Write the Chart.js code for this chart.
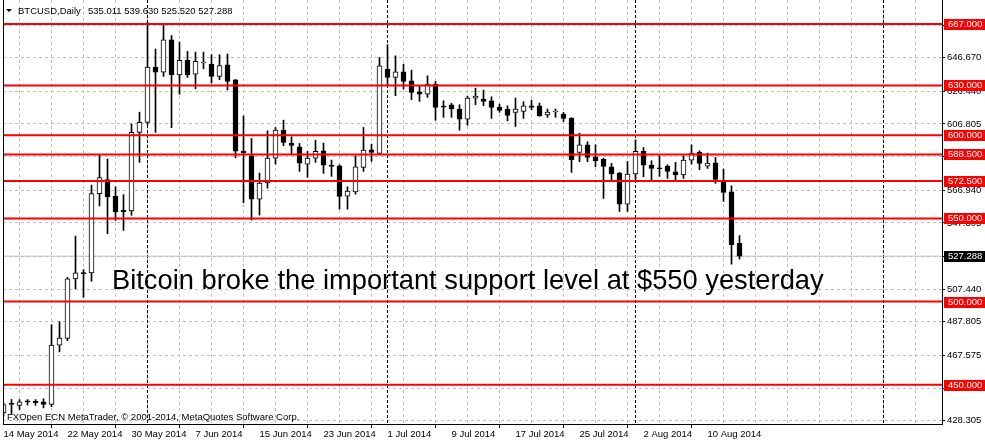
<!DOCTYPE html>
<html>
<head>
<meta charset="utf-8">
<title>BTCUSD Daily</title>
<script src="https://cdn.jsdelivr.net/npm/chart.js@4.4.1/dist/chart.umd.min.js"></script>
<style>
  html, body { margin: 0; padding: 0; background: #fff; overflow: hidden; }
  canvas { display: block; }
</style>
</head>
<body>
<canvas id="myChart" width="985" height="442"></canvas>
<script>
// daily candles, index 0 = 14 May 2014
const openPrices = [
  433.0, 438.1, 437.5, 439.6, 440.0, 439.7, 438.1, 473.8, 477.8, 513.6,
  517.2, 517.2, 564.9, 573.4, 563.3, 554.9, 554.5, 601.8, 607.8, 641.0,
  638.0, 657.5, 636.4, 645.1, 636.8, 643.5, 642.8, 635.4, 642.4, 633.4,
  590.5, 587.7, 561.6, 571.3, 586.3, 603.1, 595.3, 593.1, 582.7, 586.3,
  590.7, 582.1, 581.7, 563.4, 566.0, 580.7, 591.3, 589.1, 639.8, 634.8,
  638.2, 632.8, 626.2, 624.8, 630.8, 617.6, 618.4, 615.8, 609.7, 622.4,
  621.8, 620.8, 617.0, 615.8, 613.8, 614.4, 617.8, 617.8, 612.2, 614.0,
  612.8, 610.4, 589.7, 594.3, 587.1, 585.5, 581.1, 577.3, 558.6, 576.7,
  590.3, 582.1, 580.3, 581.5, 578.1, 576.1, 585.1, 589.7, 581.5, 583.5,
  572.3, 566.0, 535.011
];
const highPrices = [
  439.0, 441.1, 441.0, 441.0, 441.0, 441.5, 486.0, 487.8, 514.5, 539.4,
  519.2, 570.0, 588.5, 585.7, 569.0, 564.3, 606.8, 613.9, 668.0, 651.9,
  667.0, 660.0, 656.1, 650.5, 650.1, 650.1, 648.5, 648.5, 648.9, 633.6,
  611.6, 598.1, 577.3, 602.7, 604.7, 609.1, 599.1, 595.1, 590.3, 597.1,
  595.3, 585.1, 582.3, 569.0, 587.7, 604.7, 594.7, 646.8, 654.5, 647.8,
  642.8, 639.2, 629.8, 635.8, 632.4, 620.8, 619.2, 618.4, 623.6, 628.4,
  627.2, 623.2, 618.8, 617.8, 622.4, 620.2, 621.2, 619.4, 615.8, 615.8,
  613.8, 610.6, 601.3, 596.1, 594.3, 586.1, 583.1, 577.7, 584.3, 597.3,
  592.7, 584.7, 587.7, 582.3, 583.7, 587.7, 594.3, 590.7, 589.3, 586.7,
  579.7, 569.6, 539.630
];
const lowPrices = [
  431.0, 432.1, 435.0, 437.7, 437.5, 436.0, 436.7, 469.7, 476.4, 507.6,
  502.5, 512.2, 557.5, 540.8, 548.8, 542.8, 551.9, 583.7, 606.5, 601.8,
  635.4, 604.6, 624.7, 634.8, 628.0, 640.0, 631.4, 633.4, 627.3, 586.5,
  559.4, 549.0, 552.0, 568.2, 582.7, 593.7, 588.7, 578.3, 574.7, 583.7,
  577.1, 575.3, 555.6, 555.6, 564.6, 578.3, 584.3, 588.7, 629.8, 623.8,
  627.8, 621.4, 620.4, 622.8, 609.1, 610.8, 610.8, 603.1, 606.1, 618.4,
  617.8, 610.2, 613.8, 608.7, 605.3, 610.2, 615.4, 611.4, 610.8, 610.8,
  608.3, 577.7, 584.1, 584.1, 581.1, 562.0, 572.7, 554.2, 554.2, 573.3,
  575.1, 573.1, 575.3, 574.1, 572.7, 574.1, 582.7, 579.3, 580.1, 571.1,
  560.2, 522.5, 525.520
];
const closePrices = [
  438.0, 438.1, 439.7, 439.6, 439.0, 438.1, 473.8, 478.0, 513.6, 517.2,
  516.8, 564.9, 574.6, 562.9, 553.9, 553.9, 601.8, 607.8, 641.0, 638.0,
  657.5, 636.4, 645.1, 636.4, 644.5, 643.9, 635.4, 642.0, 632.4, 590.5,
  589.5, 561.6, 571.3, 586.3, 603.1, 595.7, 593.9, 583.3, 586.3, 590.3,
  582.1, 581.3, 563.2, 566.4, 581.1, 591.1, 589.7, 641.8, 634.8, 638.2,
  632.4, 625.8, 624.8, 630.8, 616.8, 617.0, 615.8, 609.7, 622.4, 623.6,
  620.4, 616.8, 615.0, 612.0, 615.8, 617.8, 616.8, 611.8, 614.0, 614.2,
  610.2, 585.3, 594.3, 586.7, 584.7, 581.3, 576.7, 558.6, 576.7, 590.3,
  582.1, 580.1, 579.9, 578.3, 576.1, 585.1, 589.3, 583.1, 583.3, 573.5,
  565.6, 534.2, 527.288
];

// horizontal levels drawn on the chart
const levels = [667, 630, 600, 588.5, 572.5, 550, 500, 450];

// price scale labels
const priceTicks = [428.305, 447.940, 467.575, 487.805, 507.440, 527.075,
  547.305, 566.940, 587.170, 606.805, 626.440, 646.670, 666.305];

// time scale labels
const dateLabels = ['14 May 2014', '22 May 2014', '30 May 2014', '7 Jun 2014',
  '15 Jun 2014', '23 Jun 2014', '1 Jul 2014', '9 Jul 2014', '17 Jul 2014',
  '25 Jul 2014', '2 Aug 2014', '10 Aug 2014'];
const dateLabelDays = [0, 8, 16, 24, 32, 40, 48, 56, 64, 72, 80, 88];
const monthStartDays = [18, 48, 79, 110];

const symbolName = 'BTCUSD,Daily';
const noteText = 'Bitcoin broke the important support level at $550 yesterday';
const copyright = 'FXOpen ECN MetaTrader, \u00a9 2001-2014, MetaQuotes Software Corp.';

const xMin = -0.0625, xMax = 117.3125;
const yMin = 426.32, yMax = 681.4;

const last = closePrices.length - 1;
const lastPrice = closePrices[last];

let gridDays = [];
for (let d = 0; d <= 116; d += 4) gridDays.push(d);

const FONT = 'Liberation Sans';
Chart.defaults.font.family = FONT;
Chart.defaults.color = '#000';

let bodies = openPrices.map((o, i) => ({ x: i, y: [o, closePrices[i]] }));
let wicks = lowPrices.map((l, i) => ({ x: i, y: [l, highPrices[i]] }));
let bodyColors = closePrices.map((c, i) => c > openPrices[i] ? '#ffffff' : '#000000');

let datasets = levels.map(v => ({
  type: 'line',
  data: [{ x: xMin, y: v }, { x: xMax, y: v }],
  borderColor: '#ff0000',
  borderWidth: 2,
  pointRadius: 0,
  order: 0
}));

datasets.push({
  type: 'bar',
  data: bodies,
  backgroundColor: bodyColors,
  borderColor: '#000',
  borderWidth: 1,
  borderSkipped: false,
  barThickness: 5,
  minBarLength: 1,
  grouped: false,
  clip: 0,
  order: 1
});
datasets.push({
  type: 'bar',
  data: wicks,
  backgroundColor: '#000',
  borderWidth: 0,
  barThickness: 1,
  grouped: false,
  clip: 0,
  order: 2
});
datasets.push({
  type: 'line',
  data: [{ x: xMin, y: lastPrice }, { x: xMax, y: lastPrice }],
  borderColor: '#c0c0c0',
  borderWidth: 1,
  pointRadius: 0,
  order: 3
});

function fmt(v) {
  return v.toFixed(3);
}

const decor = {
  id: 'decor',
  beforeDatasetsDraw(chart) {
    const ctx = chart.ctx;
    const a = chart.chartArea;
    const xs = chart.scales.x;
    ctx.save();
    ctx.strokeStyle = '#000';
    ctx.lineWidth = 1;
    ctx.setLineDash([3, 2]);
    monthStartDays.forEach(d => {
      const px = Math.round(xs.getPixelForValue(d) - 0.5) + 0.5;
      ctx.beginPath();
      ctx.moveTo(px, a.top);
      ctx.lineTo(px, a.bottom);
      ctx.stroke();
    });
    ctx.restore();
  },
  afterDraw(chart) {
    const ctx = chart.ctx;
    const a = chart.chartArea;
    const ys = chart.scales.y;
    ctx.save();
    // left frame
    ctx.strokeStyle = '#000';
    ctx.lineWidth = 1;
    ctx.beginPath();
    ctx.moveTo(a.left + 0.5, a.top);
    ctx.lineTo(a.left + 0.5, a.bottom);
    ctx.stroke();

    ctx.font = '9.5px "' + FONT + '"';
    ctx.textBaseline = 'middle';
    ctx.textAlign = 'left';
    levels.forEach(v => {
      const py = Math.round(ys.getPixelForValue(v));
      ctx.fillStyle = '#ff0000';
      ctx.fillRect(a.right + 2, py - 5, 43, 11);
      ctx.fillStyle = '#ffffff';
      ctx.fillText(fmt(v), a.right + 6, py + 0.5);
    });
    const lp = Math.round(ys.getPixelForValue(lastPrice));
    ctx.fillStyle = '#000';
    ctx.fillRect(a.right + 2, lp - 5, 43, 11);
    ctx.fillStyle = '#fff';
    ctx.fillText(fmt(lastPrice), a.right + 6, lp + 0.5);

    // header
    ctx.fillStyle = '#000';
    ctx.beginPath();
    ctx.moveTo(6, 9);
    ctx.lineTo(12, 9);
    ctx.lineTo(9, 12);
    ctx.closePath();
    ctx.fill();
    ctx.textBaseline = 'alphabetic';
    ctx.fillText(symbolName, 18, 14);
    const ohlc = [openPrices[last], highPrices[last], lowPrices[last], closePrices[last]].map(fmt).join(' ');
    ctx.fillText(ohlc, 88, 14);

    ctx.fillText(copyright, 7, 420);

    ctx.font = '27.3px "' + FONT + '"';
    ctx.fillText(noteText, 112, 288.5);
    ctx.restore();
  }
};

let chart = new Chart(document.getElementById('myChart'), {
  type: 'bar',
  data: { datasets: datasets },
  options: {
    responsive: false,
    animation: false,
    devicePixelRatio: 1,
    layout: { padding: { left: 3, top: 0, right: 0, bottom: 0 } },
    plugins: {
      legend: { display: false },
      tooltip: { enabled: false },
      title: { display: false }
    },
    scales: {
      x: {
        type: 'linear',
        min: xMin,
        max: xMax,
        offset: false,
        afterBuildTicks: scale => { scale.ticks = gridDays.map(v => ({ value: v })); },
        afterFit: scale => { scale.height = 18; scale.paddingLeft = 0; scale.paddingRight = 0; },
        grid: {
          color: '#c0c0c0',
          tickLength: 4,
          tickColor: c => (c.tick && dateLabelDays.includes(c.tick.value)) ? '#000' : 'rgba(0,0,0,0)'
        },
        border: { color: '#000', dash: [3, 3] },
        ticks: {
          autoSkip: false,
          maxRotation: 0,
          align: 'start',
          padding: 1,
          color: '#000',
          font: { family: FONT, size: 9.5 },
          callback: v => {
            const k = dateLabelDays.indexOf(v);
            return k >= 0 ? dateLabels[k] : '';
          }
        }
      },
      y: {
        position: 'right',
        min: yMin,
        max: yMax,
        afterBuildTicks: scale => { scale.ticks = priceTicks.map(v => ({ value: v })); },
        afterFit: scale => { scale.width = 43; scale.paddingTop = 0; scale.paddingBottom = 0; },
        grid: { color: '#c0c0c0', tickLength: 3, tickColor: '#000' },
        border: { color: '#000', dash: [3, 3] },
        ticks: {
          padding: 2,
          color: '#000',
          font: { family: FONT, size: 9.5 },
          callback: v => fmt(v)
        }
      }
    }
  },
  plugins: [decor]
});
</script>
</body>
</html>
